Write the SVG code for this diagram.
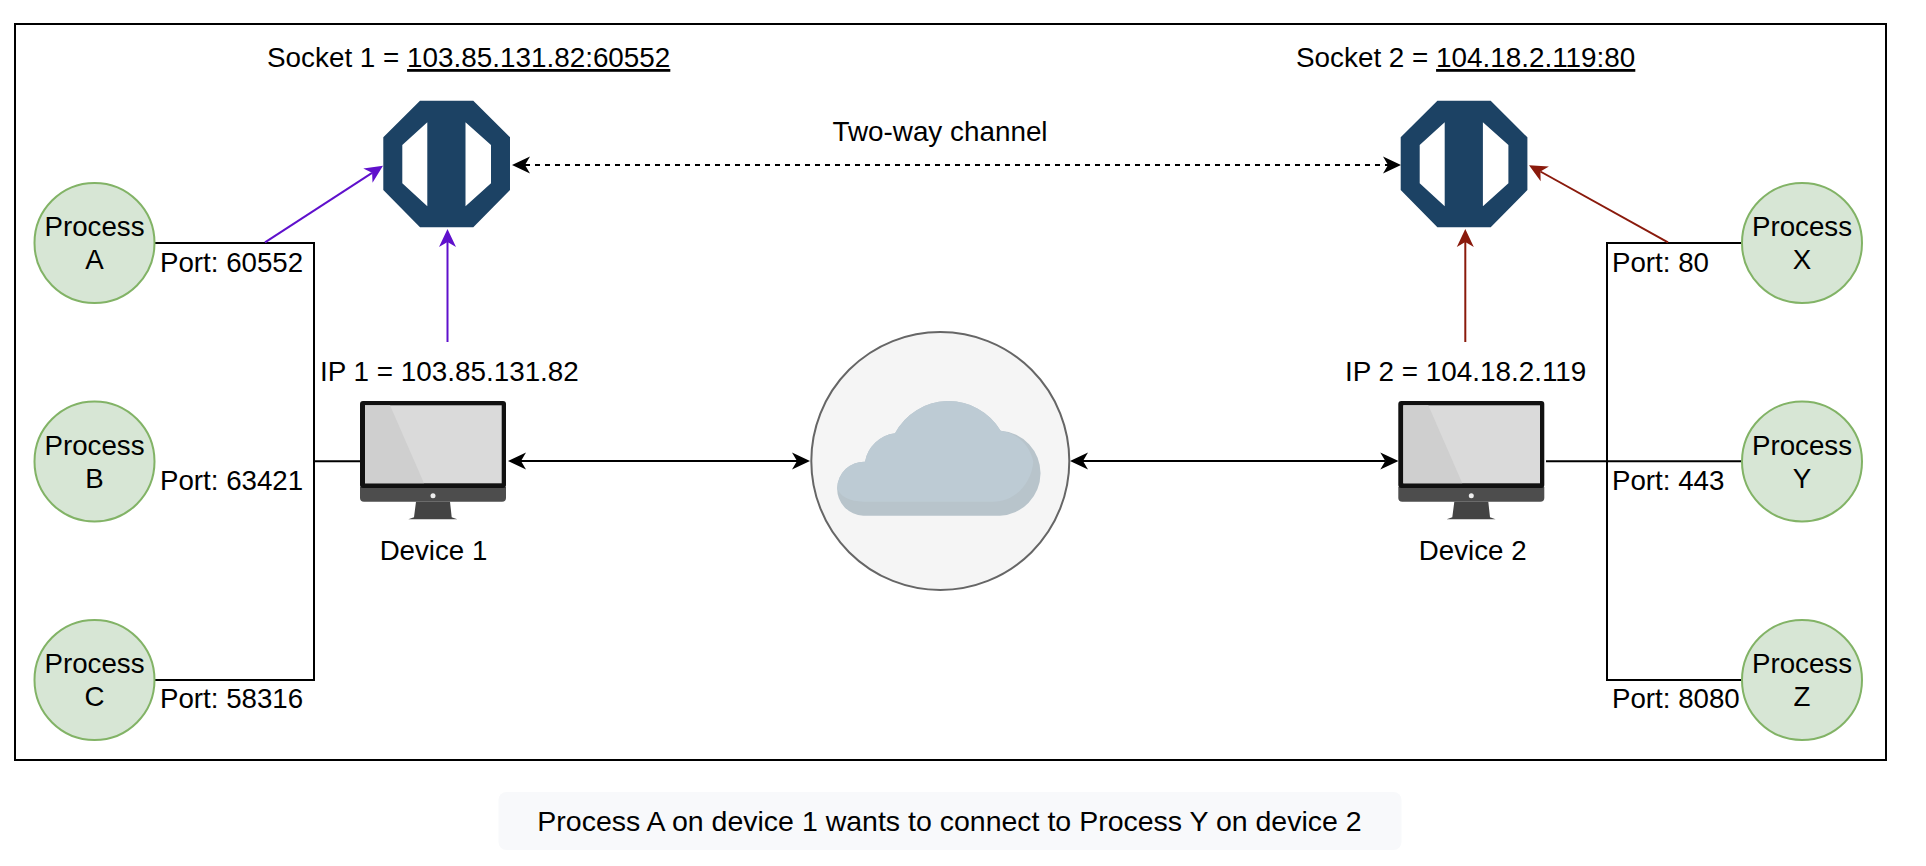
<svg xmlns="http://www.w3.org/2000/svg" xmlns:xlink="http://www.w3.org/1999/xlink" width="1926" height="866" viewBox="0 0 1926 866">
<style>
text{font-family:"Liberation Sans",Arial,sans-serif;font-size:27.7px;fill:#000}
.m{text-anchor:middle}
.big{font-size:27.85px}
.cap{font-size:28.5px}
.proc{fill:#d7e6d5;stroke:#82b366;stroke-width:2}
.wire{fill:none;stroke:#000;stroke-width:2}
.pur{fill:none;stroke:#5f10cc;stroke-width:2}
.red{fill:none;stroke:#8a1a0c;stroke-width:2}
.u{text-decoration:underline}
</style>
<defs>
<marker id="ab" markerUnits="userSpaceOnUse" markerWidth="18" markerHeight="18" refX="5" refY="9" orient="auto-start-reverse"><path d="M0,.5L18,9L0,17.5L5,9Z" fill="#000"/></marker>
<marker id="ap" markerUnits="userSpaceOnUse" markerWidth="18" markerHeight="18" refX="5" refY="9" orient="auto"><path d="M0,.5L18,9L0,17.5L5,9Z" fill="#5f10cc"/></marker>
<marker id="ar" markerUnits="userSpaceOnUse" markerWidth="18" markerHeight="18" refX="5" refY="9" orient="auto"><path d="M0,.5L18,9L0,17.5L5,9Z" fill="#8a1a0c"/></marker>
<g id="octagon">
<path fill-rule="evenodd" fill="#1c4264" d="M420,100.7H473.3L510,137.3V190L473.3,227.3H420L383.3,190V137.3ZM427.3,122.3L402.3,145V183.3L427.3,206.3ZM465.5,122.3V206.3L491,183.3V145Z"/>
</g>
<g id="monitor">
<path d="M0,86V97Q0,100.7 4,100.7H142Q146,100.7 146,97V86Z" fill="#4d4d4d"/>
<path d="M56,100.7H90L91.7,116.3L97.3,118.3H48.3L54,116.3Z" fill="#444"/>
<rect x="0" y="0" width="146" height="87" rx="3" fill="#111"/>
<rect x="5" y="4.3" width="136.7" height="78" fill="#dadada"/>
<path d="M5,4.3H30L64,82.3H5Z" fill="#cfcfcf"/>
<circle cx="73" cy="94.7" r="2.5" fill="#eee"/>
</g>
</defs>
<rect width="1926" height="866" fill="#fff"/>
<rect id="frame" x="15" y="24" width="1871" height="736" fill="#fff" stroke="#000" stroke-width="2"/>
<g id="connectors">
<path class="wire" d="M154,243H314V680H154M314,461.3H360"/>
<path class="wire" d="M1743,243H1607V680H1743M1546,461.3H1743"/>
<path class="wire" d="M521,461H797" marker-start="url(#ab)" marker-end="url(#ab)"/>
<path class="wire" d="M1083,461H1385.3" marker-start="url(#ab)" marker-end="url(#ab)"/>
<path class="wire" stroke-dasharray="5 5" d="M525,165H1388" marker-start="url(#ab)" marker-end="url(#ab)"/>
<path class="pur" d="M265,242.3L372.1,172.8" marker-end="url(#ap)"/>
<path class="pur" d="M447.5,342V242" marker-end="url(#ap)"/>
<path class="red" d="M1668,242.3L1540.4,171.5" marker-end="url(#ar)"/>
<path class="red" d="M1465.3,342V242" marker-end="url(#ar)"/>
</g>
<g id="process-a"><ellipse class="proc" cx="94.5" cy="243" rx="60" ry="60"/><text class="m" x="94.5" y="236">Process</text><text class="m" x="94.5" y="269">A</text></g>
<g id="process-b"><ellipse class="proc" cx="94.5" cy="461.5" rx="60" ry="60"/><text class="m" x="94.5" y="454.5">Process</text><text class="m" x="94.5" y="487.5">B</text></g>
<g id="process-c"><ellipse class="proc" cx="94.5" cy="680" rx="60" ry="60"/><text class="m" x="94.5" y="673">Process</text><text class="m" x="94.5" y="706">C</text></g>
<g id="process-x"><ellipse class="proc" cx="1802" cy="243" rx="60" ry="60"/><text class="m" x="1802" y="236">Process</text><text class="m" x="1802" y="269">X</text></g>
<g id="process-y"><ellipse class="proc" cx="1802" cy="461.5" rx="60" ry="60"/><text class="m" x="1802" y="454.5">Process</text><text class="m" x="1802" y="487.5">Y</text></g>
<g id="process-z"><ellipse class="proc" cx="1802" cy="680" rx="60" ry="60"/><text class="m" x="1802" y="673">Process</text><text class="m" x="1802" y="706">Z</text></g>
<g id="socket-1"><use href="#octagon" xlink:href="#octagon"/></g>
<g id="socket-2"><use href="#octagon" xlink:href="#octagon" transform="translate(1017.4 0)"/></g>
<g id="device-1"><use href="#monitor" xlink:href="#monitor" transform="translate(360 401)"/><text class="m" x="433.5" y="560">Device 1</text></g>
<g id="device-2"><use href="#monitor" xlink:href="#monitor" transform="translate(1398.3 401)"/><text class="m" x="1472.7" y="560">Device 2</text></g>
<g id="cloud">
<circle cx="940.3" cy="461" r="129" fill="#f5f5f5" stroke="#666" stroke-width="2"/>
<g transform="translate(810 340) scale(.3333)">
<path fill="#b8c4cb" d="M160,527A80,80 0 0 1 165,365A105,105 0 0 1 255,280A182,182 0 0 1 572,272A127.7,127.7 0 0 1 570,527Z"/>
<path fill="#bdcbd4" d="M160,485C120,485 90,470 82,445A80,80 0 0 1 165,365A105,105 0 0 1 255,280A182,182 0 0 1 572,272C620,278 660,315 670,365C665,430 615,485 550,485Z"/>
</g>
</g>
<g id="labels">
<text class="big" x="267" y="67">Socket 1 = <tspan class="u">103.85.131.82:60552</tspan></text>
<text class="big" x="1296" y="67">Socket 2 = <tspan class="u">104.18.2.119:80</tspan></text>
<text class="big m" x="940" y="141">Two-way channel</text>
<text class="big" x="320" y="381">IP 1 = 103.85.131.82</text>
<text class="big" x="1345" y="381">IP 2 = 104.18.2.119</text>
<text x="160" y="272">Port: 60552</text>
<text x="160" y="490">Port: 63421</text>
<text x="160" y="708">Port: 58316</text>
<text x="1612" y="272">Port: 80</text>
<text x="1612" y="490">Port: 443</text>
<text x="1612" y="708">Port: 8080</text>
</g>
<g id="caption">
<rect x="498.5" y="792" width="903" height="58" rx="8" fill="#f8f9fb"/>
<text class="cap m" x="949.5" y="831">Process A on device 1 wants to connect to Process Y on device 2</text>
</g>
</svg>
